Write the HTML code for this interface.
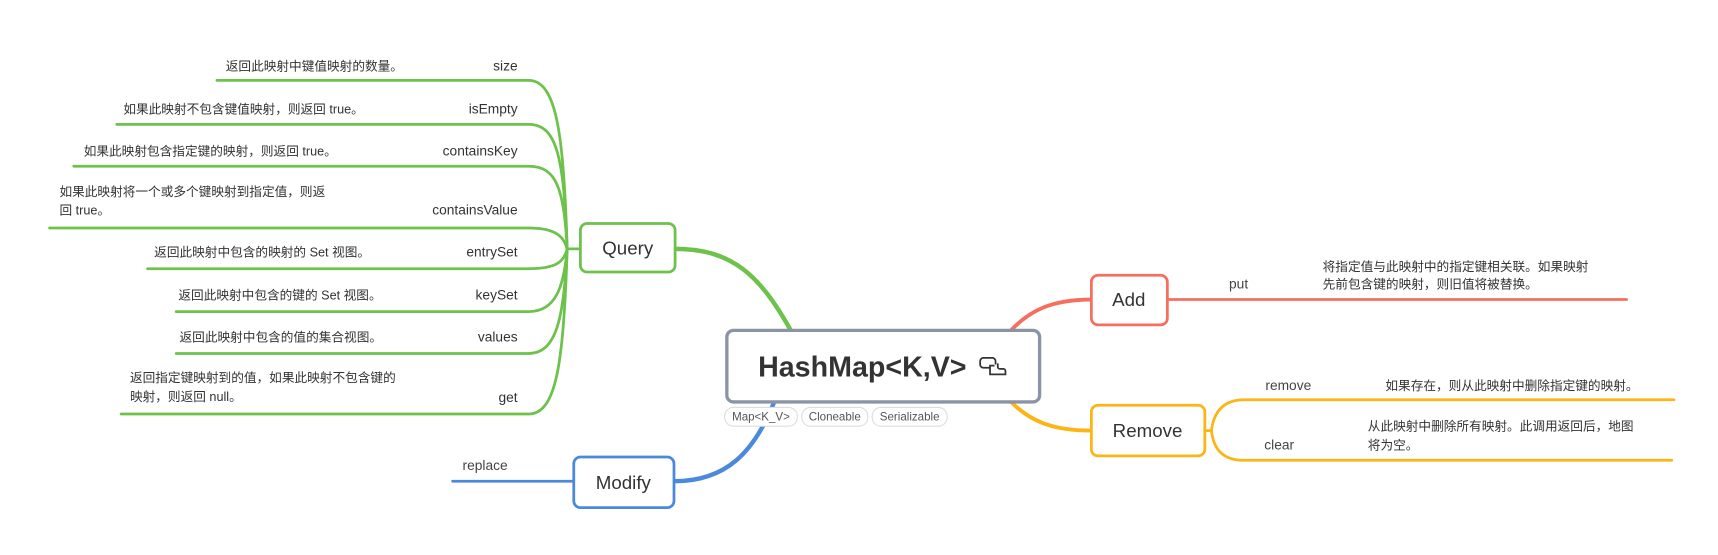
<!DOCTYPE html>
<html><head><meta charset="utf-8"><style>
html,body{margin:0;padding:0;background:#fff;}
svg{display:block}
text{font-family:"Liberation Sans","Noto Sans CJK SC",sans-serif;fill:#333;}
.c{font-size:11.5px}
.l{font-size:12.5px;fill:#444}
</style></head><body>
<svg width="1718" height="555" viewBox="0 0 1560 504" preserveAspectRatio="none" xmlns="http://www.w3.org/2000/svg">
<g fill="none" stroke-linecap="round">
<!-- main connectors -->
<path d="M613,226 C665,226 690,250 718,300" stroke="#6cc24a" stroke-width="4"/>
<path d="M612,437 C660,437 685,410 703,365" stroke="#4a89dc" stroke-width="4"/>
<path d="M991,272 C955,272 935,282 918,300" stroke="#f56f5f" stroke-width="3.5"/>
<path d="M991,391 C955,391 935,382 918,365" stroke="#fdb515" stroke-width="3.5"/>
<!-- query branches -->
<g stroke="#6cc24a" stroke-width="2.5">
<path d="M527,226 L515,226 C512,120 505,73 480,73 L197,73"/>
<path d="M515,226 C512,140 505,113 480,113 L106,113"/>
<path d="M515,226 C512,170 505,151 480,151 L67,151"/>
<path d="M515,226 C512,215 505,207 480,207 L45,207"/>
<path d="M515,226 C512,238 505,244 480,244 L134,244"/>
<path d="M515,226 C512,260 505,283 480,283 L160,283"/>
<path d="M515,226 C512,290 505,321 480,321 L160,321"/>
<path d="M515,226 C512,330 505,376 480,376 L110,376"/>
</g>
<path d="M521,437 L411,437" stroke="#4a89dc" stroke-width="2.5"/>
<path d="M1060,272 L1477,272" stroke="#f56f5f" stroke-width="2.5"/>
<g stroke="#fdb515" stroke-width="2.5">
<path d="M1094,391 L1100,391 C1102,375 1110,363 1130,363 L1520,363"/>
<path d="M1100,391 C1102,408 1110,418 1130,418 L1518,418"/>
</g>
</g>
<!-- nodes -->
<rect x="527" y="203" width="86" height="44" rx="6" fill="#fff" stroke="#6cc24a" stroke-width="2.5"/>
<text x="570" y="231" text-anchor="middle" style="font-size:17px">Query</text>
<rect x="521" y="415" width="91" height="46" rx="6" fill="#fff" stroke="#4a89dc" stroke-width="2.5"/>
<text x="566" y="444" text-anchor="middle" style="font-size:17px">Modify</text>
<rect x="991" y="250" width="69" height="45" rx="6" fill="#fff" stroke="#f56f5f" stroke-width="2.5"/>
<text x="1025" y="278" text-anchor="middle" style="font-size:17px">Add</text>
<rect x="991" y="368" width="103" height="46" rx="6" fill="#fff" stroke="#fdb515" stroke-width="2.5"/>
<text x="1042" y="397" text-anchor="middle" style="font-size:17px">Remove</text>
<rect x="660" y="300" width="284" height="65" rx="6" fill="#fff" stroke="#8a94a6" stroke-width="3"/>
<text x="783" y="342" text-anchor="middle" style="font-size:26px;font-weight:bold;fill:#333">HashMap&lt;K,V&gt;</text>
<g fill="none" stroke="#333" stroke-width="1.6">
<path d="M899,334 h-6 a3,3 0 0 1 -3,-3 v-3 a3,3 0 0 1 3,-3 h8 a3,3 0 0 1 3,3 v3"/>
<path d="M906,330 v3 a2,2 0 0 0 2,2 h3 a2,2 0 0 1 2,2 v3 h-14 v-8 h4"/>
</g>
<!-- tags -->
<g stroke="#ddd" fill="#fff">
<rect x="658" y="370" width="66" height="17" rx="8"/>
<rect x="728" y="370" width="60" height="17" rx="8"/>
<rect x="792" y="370" width="68" height="17" rx="8"/>
</g>
<g style="font-size:10.5px">
<text x="691" y="382" text-anchor="middle" style="fill:#555">Map&lt;K_V&gt;</text>
<text x="758" y="382" text-anchor="middle" style="fill:#555">Cloneable</text>
<text x="826" y="382" text-anchor="middle" style="fill:#555">Serializable</text>
</g>
<!-- query labels -->
<g class="l" text-anchor="end">
<text x="470" y="64">size</text>
<text x="470" y="103">isEmpty</text>
<text x="470" y="141">containsKey</text>
<text x="470" y="195">containsValue</text>
<text x="470" y="233">entrySet</text>
<text x="470" y="272">keySet</text>
<text x="470" y="310">values</text>
<text x="470" y="365">get</text>
</g>
<g class="c">
<text x="205" y="64">返回此映射中键值映射的数量。</text>
<text x="112" y="103">如果此映射不包含键值映射，则返回 true。</text>
<text x="76" y="141">如果此映射包含指定键的映射，则返回 true。</text>
<text x="54" y="178">如果此映射将一个或多个键映射到指定值，则返</text>
<text x="54" y="195">回 true。</text>
<text x="140" y="233">返回此映射中包含的映射的 Set 视图。</text>
<text x="162" y="272">返回此映射中包含的键的 Set 视图。</text>
<text x="163" y="310">返回此映射中包含的值的集合视图。</text>
<text x="118" y="347">返回指定键映射到的值，如果此映射不包含键的</text>
<text x="118" y="364">映射，则返回 null。</text>
</g>
<text class="l" x="420" y="427">replace</text>
<text class="l" x="1116" y="262">put</text>
<text class="c" x="1201" y="246">将指定值与此映射中的指定键相关联。如果映射</text>
<text class="c" x="1201" y="262">先前包含键的映射，则旧值将被替换。</text>
<text class="l" x="1149" y="354">remove</text>
<text class="c" x="1258" y="354">如果存在，则从此映射中删除指定键的映射。</text>
<text class="l" x="1148" y="408">clear</text>
<text class="c" x="1242" y="391">从此映射中删除所有映射。此调用返回后，地图</text>
<text class="c" x="1242" y="408">将为空。</text>
</svg>
</body></html>
